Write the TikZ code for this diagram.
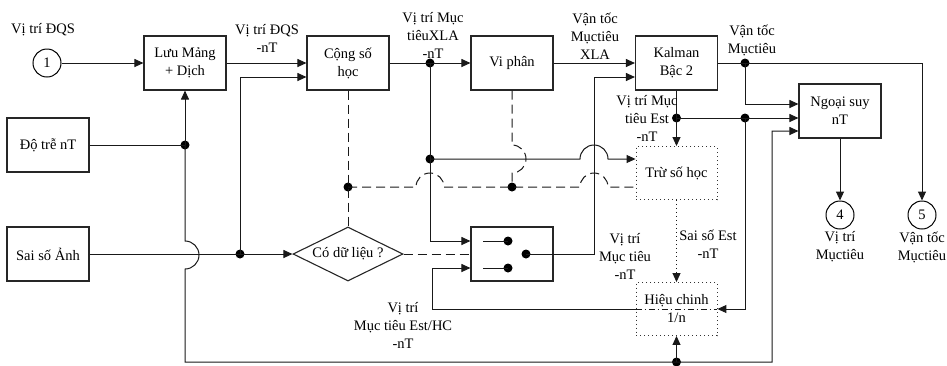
\documentclass[tikz,border=0pt]{standalone}
\usepackage{fontspec}
\setmainfont{Liberation Serif}
\usetikzlibrary{arrows.meta,shapes.geometric}
\begin{document}
\begin{tikzpicture}[x=1pt,y=1pt,
  font=\fontsize{14.5}{18}\selectfont,
  blk/.style={draw=black!85,line width=1.1pt,minimum width=82pt,minimum height=54pt,inner sep=0pt,align=center,fill=white},
  dbox/.style={draw=black!80,line width=0.9pt,dash pattern=on 1pt off 3pt,minimum width=81pt,minimum height=53pt,inner sep=0pt,align=center},
  term/.style={draw=black,line width=1pt,circle,minimum size=28pt,inner sep=0pt},
  lbl/.style={align=center,inner sep=0pt},
  wire/.style={line width=1pt,black!90},
  arr/.style={wire,-{Triangle[length=9pt,width=8pt]}},
  dsh/.style={wire,dash pattern=on 9pt off 5pt},
  dtd/.style={wire,dash pattern=on 1pt off 3pt},
  jdot/.style={circle,fill=black,inner sep=0pt,minimum size=9pt},
]
\useasboundingbox (0,0) rectangle (947,-365);

% blocks
\node[term] (c1) at (47,-63) {1};
\node[blk] (luu) at (185,-63) {Lưu Mảng\\+ Dịch};
\node[blk] (cong) at (348,-63) {Cộng số\\học};
\node[blk] (viph) at (512,-63) {Vi phân};
\node[blk] (kal) at (676.5,-63) {Kalman\\Bậc 2};
\node[blk] (ngs) at (840,-111) {Ngoại suy\\nT};
\node[blk] (dotre) at (48,-145) {Độ trễ nT};
\node[blk] (saiso) at (48,-254) {Sai số Ảnh};
\node[draw=black!85,line width=1.1pt,diamond,aspect=2.04,minimum width=110pt,minimum height=54pt,inner sep=0pt] (cdl) at (348,-254) {Có dữ liệu ?};
\node[blk] (sw) at (512,-254) {};
\node[dbox] (tru) at (676.5,-173) {Trừ số học};
\node[dbox] (hc) at (676.5,-309) {Hiệu chinh\\1/n};
\node[term] (c4) at (840,-215) {4};
\node[term] (c5) at (922,-215) {5};

% switch inside
\node[jdot] (sd1) at (508,-241) {};
\node[jdot] (sd2) at (508,-268) {};
\node[jdot] (sd3) at (526,-254) {};
\coordinate (sa1) at (483,-241);
\coordinate (sa2) at (483,-268);
\draw[wire] (sa1) -- (sd1.center);
\draw[wire] (sa2) -- (sd2.center);

% junctions
\node[jdot] (j1) at (185,-145) {};
\node[jdot] (j2) at (240,-254) {};
\node[jdot] (j3) at (348,-187) {};
\node[jdot] (j4) at (512,-187) {};
\node[jdot] (j5) at (430,-159) {};
\node[jdot] (j6) at (430,-63) {};
\node[jdot] (j7) at (676.5,-362) {};
\node[jdot] (j8) at (676.5,-118) {};
\node[jdot] (j9) at (745,-118) {};
\node[jdot] (j10) at (745,-63) {};

% connectors
\draw[arr] (c1) -- (luu);
\draw[arr] (luu) -- (cong);
\draw[arr] (cong) -- (viph);
\draw[arr] (viph) -- (kal);
\draw[wire] (dotre) -- (j1.center);
\draw[arr] (j1.center) -- (luu);
\draw[arr] (j1.center) -- (185,-241) arc[start angle=90,end angle=-90,radius=14] -- (185,-362) -- (772,-362) -- (772,-131) -- ([yshift=-20pt]ngs.west);
\draw[arr] (j7.center) -- (hc);
\draw[arr] (saiso) -- (cdl);
\draw[arr] (j2.center) -- (240,-77) -- ([yshift=-14pt]cong.west);

% dashed control lines
\draw[dsh] (cong) -- (cdl);
\draw[dsh] (j3.center) -- (416,-187) arc[start angle=180,end angle=0,radius=14] -- (580,-187) arc[start angle=180,end angle=0,radius=14] -- (tru.west |- j3);
\draw[dsh] (viph) -- (512,-145) arc[start angle=90,end angle=-90,radius=14] -- (j4.center);
\draw[dsh] (cdl) -- (sw);

% position paths
\draw[arr] (j6.center) -- (430,-241) -- ([yshift=13pt]sw.west);
\draw[arr] (j5.center) -- (580,-159) arc[start angle=180,end angle=0,radius=14] -- (tru.west |- j5);
\draw[arr] (sd3.center) -- (594,-254) -- (594,-77) -- ([yshift=-14pt]kal.west);

% Kalman outputs
\draw[arr] (kal) -- (tru);
\draw[arr] (j8.center) -- ([yshift=-7pt]ngs.west);
\draw[arr] (j9.center) -- (745,-309) -- (hc.east);
\draw[arr] (hc.west) -- (432,-309) -- (432,-268) -- ([yshift=-14pt]sw.west);
\draw[wire,dash pattern=on 6pt off 3pt on 1pt off 3pt] (hc.west) -- (hc.east);
\draw[arr] (kal) -- (c5 |- kal) -- (c5);
\draw[arr] (j10.center) -- (745,-104) -- ([yshift=7pt]ngs.west);
\draw[arr] (ngs) -- (c4);
\draw[dtd,-{Triangle[length=9pt,width=8pt]}] (tru) -- (hc);

% labels
\node[lbl] (t1) at (43,-30) {Vị trí ĐQS};
\node[lbl] (t2) at (267,-38) {Vị trí ĐQS\\-nT};
\node[lbl] (t3) at (433,-35) {Vị trí Mục\\tiêuXLA\\-nT};
\node[lbl] (t4) at (595,-36) {Vận tốc\\Mụctiêu\\XLA};
\node[lbl] (t5) at (752,-40) {Vận tốc\\Mụctiêu};
\node[lbl] (t6) at (647,-118) {Vị trí Mục\\tiêu Est\\-nT};
\node[lbl] (t7) at (625,-256) {Vị trí\\Mục tiêu\\-nT};
\node[lbl] (t8) at (708,-244) {Sai số Est\\-nT};
\node[lbl] (t9) at (403,-325) {Vị trí\\Mục tiêu Est/HC\\-nT};
\node[lbl] (t10) at (840,-247) {Vị trí\\Mụctiêu};
\node[lbl] (t11) at (922,-247) {Vận tốc\\Mụctiêu};
\end{tikzpicture}
\end{document}
